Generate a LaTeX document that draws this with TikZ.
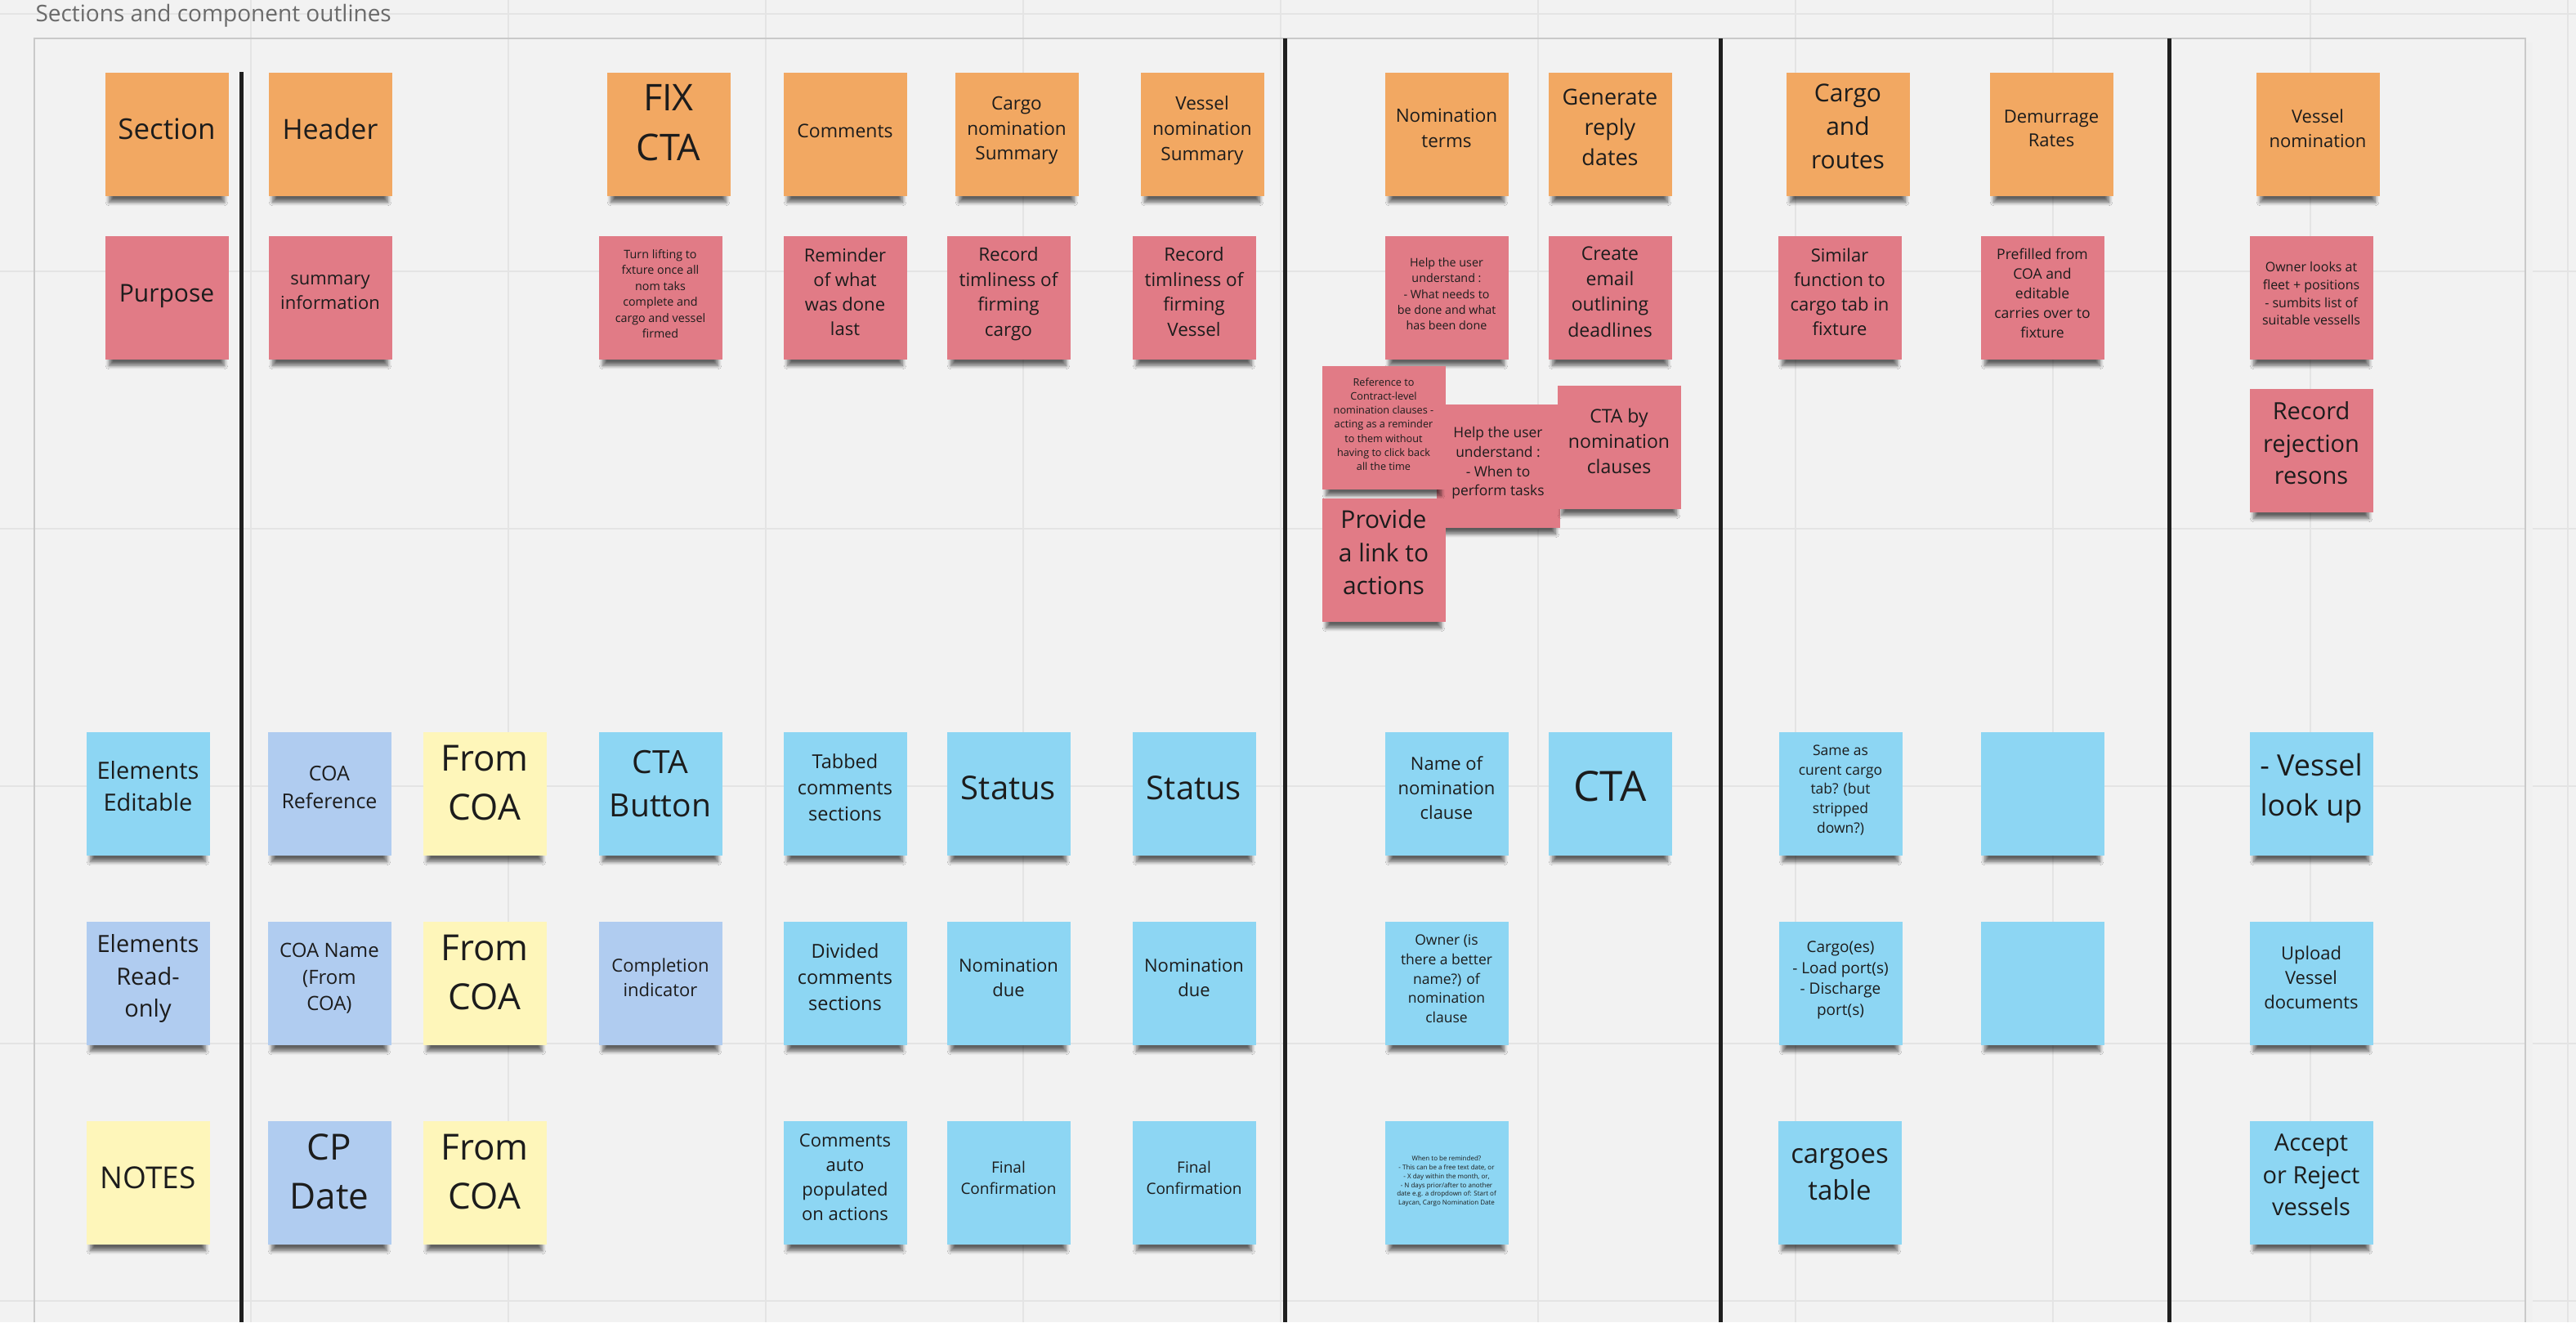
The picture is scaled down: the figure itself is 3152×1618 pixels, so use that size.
\documentclass[tikz,border=0pt]{standalone}
\usepackage{fontspec}
\setmainfont{Open Sans}
\usetikzlibrary{shadows.blur}
\definecolor{board}{HTML}{F2F2F2}
\definecolor{gridgray}{HTML}{E4E4E4}
\definecolor{framegray}{HTML}{C9C9C9}
\definecolor{titlegray}{HTML}{6A6A6A}
\definecolor{ink}{HTML}{1C1C1C}
\definecolor{noteorange}{HTML}{F2A862}
\definecolor{notered}{HTML}{E17B86}
\definecolor{notecyan}{HTML}{8DD6F3}
\definecolor{notelilac}{HTML}{B0CCF0}
\definecolor{noteyellow}{HTML}{FEF6BA}
\newcommand\fsz[1]{\fontsize{#1}{\dimexpr#1*136/100\relax}\selectfont}
\newcommand\ostrut{\rule[-.62em]{0pt}{1.62em}}
\begin{document}
\begin{tikzpicture}[x=1pt,y=-1pt,
  sticky/.style={rectangle,minimum width=151pt,minimum height=151pt,inner sep=0pt,align=center,text=ink,
    execute at begin node=\ostrut,execute at end node=\ostrut,
    blur shadow={shadow xshift=0pt,shadow yshift=-14pt,shadow scale=0.93,shadow blur radius=5pt,shadow blur steps=6,shadow opacity=60}},
  orangenote/.style={sticky,fill=noteorange},
  rednote/.style={sticky,fill=notered},
  cyannote/.style={sticky,fill=notecyan},
  lilacnote/.style={sticky,fill=notelilac},
  yellownote/.style={sticky,fill=noteyellow},
  gridline/.style={gridgray,line width=2pt},
  divider/.style={black!88,line width=5pt}]
\useasboundingbox (0,0) rectangle (3152,1618);
\fill[board] (0,0) rectangle (3152,1618);
\foreach \gx in {307,622,...,3142} \draw[gridline] (\gx,0) -- (\gx,1618);
\foreach \gy in {17,332,...,1592} \draw[gridline] (0,\gy) -- (3152,\gy);
\draw[black!6,line width=8pt] (3095,52) -- (3095,1618);
\draw[framegray,line width=2.5pt] (42,1618) -- (42,47) -- (3090,47) -- (3090,1618);
\node[anchor=base west,text=titlegray,font=\fsz{28pt}] (title) at (40,26) {Sections and component outlines};
\draw[divider] (295,88) -- (295,1618);
\draw[divider] (1572,47) -- (1572,1618);
\draw[divider] (2105,47) -- (2105,1618);
\draw[divider] (2654,47) -- (2654,1618);

\node[orangenote,font=\fsz{35pt}] (section) at (204,164) {Section};
\node[orangenote,font=\fsz{34pt}] (header) at (404,164) {Header};
\node[orangenote,font=\fsz{45pt}] (fixcta) at (818,164) {FIX\\CTA};
\node[orangenote,font=\fsz{23pt}] (comments) at (1034,164) {Comments};
\node[orangenote,font=\fsz{22.5pt}] (cargonomsum) at (1244,164) {Cargo\\nomination\\Summary};
\node[orangenote,font=\fsz{22.5pt}] (vesselnomsum) at (1471,164) {Vessel\\nomination\\Summary};
\node[orangenote,font=\fsz{22.5pt}] (nomterms) at (1770,164) {Nomination\\terms};
\node[orangenote,font=\fsz{27pt}] (genreply) at (1970,164) {Generate\\reply\\dates};
\node[orangenote,font=\fsz{30pt}] (cargoroutes) at (2261,164) {Cargo\\and\\routes};
\node[orangenote,font=\fsz{22pt}] (demurrage) at (2510,164) {Demurrage\\Rates};
\node[orangenote,font=\fsz{22pt}] (vesselnom) at (2836,164) {Vessel\\nomination};

\node[rednote,font=\fsz{30pt}] (purpose) at (204,364) {Purpose};
\node[rednote,font=\fsz{22pt}] (summary) at (404,364) {summary\\information};
\node[rednote,font=\fsz{14.3pt}] (turnlift) at (808,364) {Turn lifting to\\fxture once all\\nom taks\\complete and\\cargo and vessel\\firmed};
\node[rednote,font=\fsz{22pt}] (reminder) at (1034,364) {Reminder\\of what\\was done\\last};
\node[rednote,font=\fsz{22.5pt}] (reccargo) at (1234,364) {Record\\timliness of\\firming\\cargo};
\node[rednote,font=\fsz{22.5pt}] (recvessel) at (1461,364) {Record\\timliness of\\firming\\Vessel};
\node[rednote,font=\fsz{14.3pt}] (helpuser) at (1770,364) {Help the user\\understand :\\- What needs to\\be done and what\\has been done};
\node[rednote,font=\fsz{23pt}] (email) at (1970,364) {Create\\email\\outlining\\deadlines};
\node[rednote,font=\fsz{22pt}] (similar) at (2251,364) {Similar\\function to\\cargo tab in\\fixture};
\node[rednote,font=\fsz{17.6pt}] (prefilled) at (2499,364) {Prefilled from\\COA and\\editable\\carries over to\\fixture};
\node[rednote,font=\fsz{16pt}] (ownerlooks) at (2828,364) {Owner looks at\\fleet + positions\\- sumbits list of\\suitable vessells};
\node[rednote,font=\fsz{17.4pt}] (helpwhen) at (1833,570) {Help the user\\understand :\\- When to\\perform tasks};
\node[rednote,font=\fsz{12.7pt}] (reference) at (1693,523) {Reference to\\Contract-level\\nomination clauses -\\acting as a reminder\\to them without\\having to click back\\all the time};
\node[rednote,font=\fsz{30pt}] (provide) at (1693,685) {Provide\\a link to\\actions};
\node[rednote,font=\fsz{23pt}] (ctaby) at (1981,547) {CTA by\\nomination\\clauses};
\node[rednote,font=\fsz{29pt}] (rejection) at (2828,551) {Record\\rejection\\resons};

\node[cyannote,font=\fsz{29pt}] (editable) at (181,971) {Elements\\Editable};
\node[lilacnote,font=\fsz{25pt}] (coaref) at (403,971) {COA\\Reference};
\node[yellownote,font=\fsz{44pt}] (fromcoaA) at (593,971) {From\\COA};
\node[cyannote,font=\fsz{39pt}] (ctabutton) at (808,971) {CTA\\Button};
\node[cyannote,font=\fsz{23.5pt}] (tabbed) at (1034,971) {Tabbed\\comments\\sections};
\node[cyannote,font=\fsz{40pt}] (statusA) at (1234,971) {Status};
\node[cyannote,font=\fsz{40pt}] (statusB) at (1461,971) {Status};
\node[cyannote,font=\fsz{22pt}] (nameclause) at (1770,971) {Name of\\nomination\\clause};
\node[cyannote,font=\fsz{51pt}] (cta) at (1970,971) {CTA};
\node[cyannote,font=\fsz{17.5pt}] (sameas) at (2252,971) {Same as\\curent cargo\\tab? (but\\stripped\\down?)};
\node[cyannote] (blankA) at (2499,971) {};
\node[cyannote,font=\fsz{36pt}] (lookup) at (2828,971) {- Vessel\\look up};

\node[lilacnote,font=\fsz{29pt}] (readonly) at (181,1203) {Elements\\Read-\\only};
\node[lilacnote,font=\fsz{24pt}] (coaname) at (403,1203) {COA Name\\(From\\COA)};
\node[yellownote,font=\fsz{44pt}] (fromcoaB) at (593,1203) {From\\COA};
\node[lilacnote,font=\fsz{22pt}] (completion) at (808,1203) {Completion\\indicator};
\node[cyannote,font=\fsz{23.5pt}] (divided) at (1034,1203) {Divided\\comments\\sections};
\node[cyannote,font=\fsz{22pt}] (nomdueA) at (1234,1203) {Nomination\\due};
\node[cyannote,font=\fsz{22pt}] (nomdueB) at (1461,1203) {Nomination\\due};
\node[cyannote,font=\fsz{17.5pt}] (owner) at (1770,1203) {Owner (is\\there a better\\name?) of\\nomination\\clause};
\node[cyannote,font=\fsz{19pt}] (cargoes) at (2252,1203) {Cargo(es)\\- Load port(s)\\- Discharge\\port(s)};
\node[cyannote] (blankB) at (2499,1203) {};
\node[cyannote,font=\fsz{22pt}] (upload) at (2828,1203) {Upload\\Vessel\\documents};

\node[yellownote,font=\fsz{37pt}] (notes) at (181,1447) {NOTES};
\node[lilacnote,font=\fsz{44pt}] (cpdate) at (403,1447) {CP\\Date};
\node[yellownote,font=\fsz{44pt}] (fromcoaC) at (593,1447) {From\\COA};
\node[cyannote,font=\fsz{22pt}] (autopop) at (1034,1447) {Comments\\auto\\populated\\on actions};
\node[cyannote,font=\fsz{19pt}] (finalA) at (1234,1447) {Final\\Confirmation};
\node[cyannote,font=\fsz{19pt}] (finalB) at (1461,1447) {Final\\Confirmation};
\node[cyannote,font=\fsz{8pt}] (remind) at (1770,1447) {When to be reminded?\\- This can be a free text date, or\\- X day within the month, or,\\- N days prior/after to another\\date e.g. a dropdown of: Start of\\Laycan, Cargo Nomination Date};
\node[cyannote,font=\fsz{33pt}] (cargotable) at (2251,1447) {cargoes\\table};
\node[cyannote,font=\fsz{29pt}] (accept) at (2828,1447) {Accept\\or Reject\\vessels};
\end{tikzpicture}
\end{document}
